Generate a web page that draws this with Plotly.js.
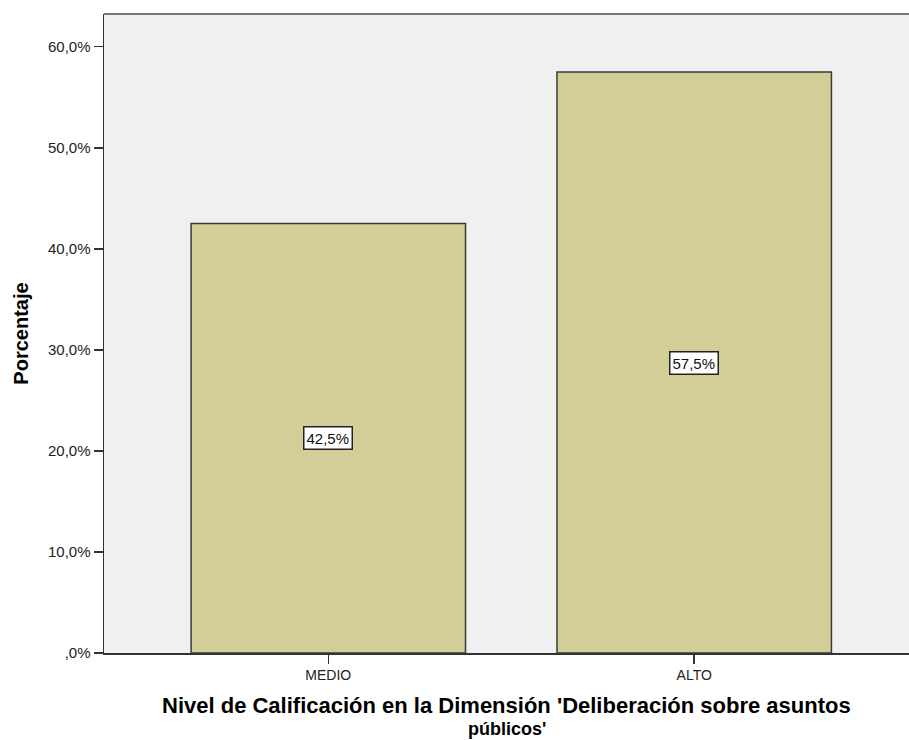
<!DOCTYPE html>
<html>
<head>
<meta charset="utf-8">
<script src="https://cdn.plot.ly/plotly-3.0.1.min.js"></script>
<style>html,body{margin:0;padding:0;background:#fff;}#chart{width:909px;height:740px;}</style>
</head>
<body>
<div id="chart"></div>
<script>
const categories = ["MEDIO", "ALTO"];
const values = [42.5, 57.5];
const valueLabels = ["42,5%", "57,5%"];
const yTickVals = [0, 10, 20, 30, 40, 50, 60];
const yTickText = [",0%", "10,0%", "20,0%", "30,0%", "40,0%", "50,0%", "60,0%"];
const xTitleLines = ["Nivel de Calificación en la Dimensión 'Deliberación sobre asuntos", "públicos'"];

const font = "Liberation Sans, Arial, sans-serif";

const trace = {
  type: "bar",
  x: categories,
  y: values,
  marker: { color: "#d3ce97", line: { color: "#3a3a3a", width: 1.5 } },
  hoverinfo: "none"
};

const annotations = categories.map((c, i) => ({
  x: c, y: values[i] / 2, xref: "x", yref: "y",
  text: valueLabels[i], showarrow: false,
  font: { family: font, size: 15, color: "#111" },
  bgcolor: "#ffffff", bordercolor: "#222", borderwidth: 1.5, borderpad: 2
}));
annotations.push({
  xref: "paper", yref: "paper", x: 0.5, y: 0, yshift: -52, yanchor: "middle",
  text: "<b>" + xTitleLines[0] + "</b>", showarrow: false,
  font: { family: font, size: 22, color: "#000" }, borderpad: 0
});
annotations.push({
  xref: "paper", yref: "paper", x: 0.5, y: 0, yshift: -87, yanchor: "bottom",
  text: "<b>" + xTitleLines[1] + "</b>", showarrow: false,
  font: { family: font, size: 18, color: "#000" }, borderpad: 0
});

const layout = {
  width: 909, height: 740,
  margin: { l: 104, r: 0, t: 14, b: 87 },
  paper_bgcolor: "#ffffff",
  plot_bgcolor: "#f0f0f0",
  bargap: 0.25,
  showlegend: false,
  xaxis: {
    type: "category",
    range: [-0.613, 1.587],
    showgrid: false, zeroline: false,
    showline: true, linecolor: "#333", linewidth: 1.5,
    ticks: "outside", ticklen: 9, tickcolor: "#333", tickwidth: 1.5,
    tickfont: { family: font, size: 14, color: "#222" },
    fixedrange: true
  },
  yaxis: {
    range: [0, 63.24],
    tickvals: yTickVals, ticktext: yTickText,
    showgrid: false, zeroline: false,
    showline: true, linecolor: "#333", linewidth: 1.5,
    ticks: "outside", ticklen: 9, tickcolor: "#333", tickwidth: 1.5,
    tickfont: { family: font, size: 15, color: "#222" },
    title: { text: "<b>Porcentaje</b>", font: { family: font, size: 20, color: "#000" }, standoff: 14 },
    fixedrange: true
  },
  shapes: [{
    type: "line", xref: "paper", yref: "paper", x0: 0, x1: 1, y0: 1, y1: 1,
    line: { color: "#777", width: 2 }
  }],
  annotations: annotations
};

Plotly.newPlot("chart", [trace], layout, { displayModeBar: false, staticPlot: true });
</script>
</body>
</html>
